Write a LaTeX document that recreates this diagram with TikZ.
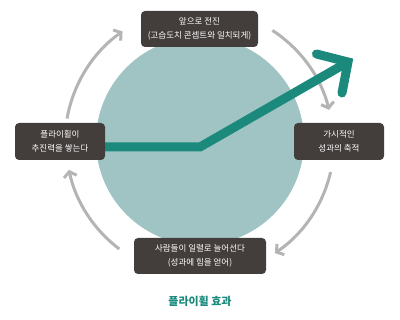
\documentclass[tikz,border=0pt]{standalone}
\usepackage{fontspec}
\newfontfamily\kr{Noto Sans CJK KR}
\usetikzlibrary{arrows.meta,calc}
\definecolor{boxc}{HTML}{433D3B}
\definecolor{tealc}{HTML}{1B8A7D}
\definecolor{circc}{HTML}{A0C4C3}
\definecolor{grayc}{HTML}{B4B4B4}
\pgfdeclarelayer{bglayer}
\pgfdeclarelayer{midlayer}
\pgfsetlayers{bglayer,midlayer,main}
\begin{document}
\begin{tikzpicture}[x=1pt,y=1pt,
  box/.style={fill=boxc, rounded corners=4pt, text=white, align=center,
    font=\kr\fontsize{8.5}{13.5}\selectfont, inner sep=0pt},
  cyclearrow/.style={draw=grayc, line width=3pt,
    -{Straight Barb[length=5pt,width=13pt]}},
  growline/.style={draw=tealc, line width=9pt, line join=miter}]
\useasboundingbox (0,0) rectangle (400,320);
% boxes
\node[box, minimum width=117pt, minimum height=36pt] (T) at (199.5,291) {앞으로 전진\\(고습도치 콘셉트와 일치되게)};
\node[box, minimum width=90pt, minimum height=37pt] (L) at (60,178.5) {플라이휠이\\추진력을 쌓는다};
\node[box, minimum width=90pt, minimum height=37pt] (R) at (339,178.5) {가시적인\\성과의 축적};
\node[box, minimum width=132pt, minimum height=36pt] (B) at (200,64) {사람들이 일렬로 늘어선다\\(성과에 힘을 얻어)};
% title
\node[font=\kr\bfseries\fontsize{11}{13}\selectfont, text=tealc] (title) at (200,19) {플라이휠 효과};
\begin{pgfonlayer}{bglayer}
  \fill[circc] (200,179) circle[radius=104];
  \coordinate (cc) at (200,178);
  \draw[cyclearrow] ($(cc)+(57:133)$) arc[start angle=57, end angle=14, radius=133];
  \draw[cyclearrow] ($(cc)+(-13:134)$) arc[start angle=-13, end angle=-56, radius=134];
  \draw[cyclearrow] ($(cc)+(-127:134)$) arc[start angle=-127, end angle=-168, radius=134];
  \draw[cyclearrow] ($(cc)+(170:135)$) arc[start angle=170, end angle=125, radius=135];
\end{pgfonlayer}
\begin{pgfonlayer}{midlayer}
  \coordinate (start) at ([xshift=-10pt]L.east |- 0,173);
  \coordinate (bend) at (200,173);
  \coordinate (tip) at (348,258);
  \coordinate (arm1) at (316.5,266);
  \coordinate (arm2) at (342,227);
  \draw[growline] (start) -- (bend) -- (tip);
  \draw[growline, line cap=round] (arm1) -- (tip) -- (arm2);
\end{pgfonlayer}
\end{tikzpicture}
\end{document}
